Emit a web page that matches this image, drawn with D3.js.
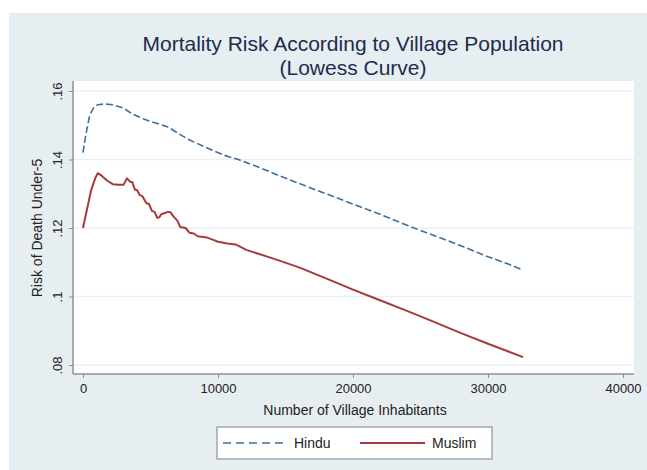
<!DOCTYPE html>
<html>
<head>
<meta charset="utf-8">
<script src="https://cdn.jsdelivr.net/npm/d3@7"></script>
<style>
  html, body { margin: 0; padding: 0; background: #ffffff; }
  svg { display: block; font-family: "Liberation Sans", Arial, Helvetica, sans-serif; }
</style>
</head>
<body>
<svg id="chart" width="647" height="470"></svg>
<script>
// Lowess-smoothed under-5 mortality risk by village population
const hinduPop  = [0, 200, 500, 800, 1100, 1600, 2200, 3000, 3700, 4700, 5500, 6300, 7100, 7900, 9000, 10400, 11500, 12600, 14400, 16000, 18000, 20000, 22000, 24000, 26000, 28000, 30000, 31500, 32600];
const hinduRisk = [.1420, .1470, .1530, .1552, .1560, .1562, .1560, .1550, .1532, .1515, .1505, .1495, .1475, .1457, .1437, .1413, .1400, .1384, .1355, .1330, .1300, .1270, .1240, .1208, .1178, .1148, .1116, .1095, .1077];

const muslimPop  = [0, 300, 600, 900, 1100, 1400, 1800, 2200, 2600, 3000, 3250, 3500, 3650, 3850, 4000, 4200, 4400, 4700, 4900, 5100, 5300, 5500, 5650, 5800, 6300, 6500, 6700, 7000, 7200, 7600, 7900, 8200, 8500, 9200, 9600, 10000, 10700, 11300, 12100, 14000, 16000, 18000, 20000, 22000, 24000, 26000, 28000, 30000, 32600];
const muslimRisk = [.1200, .1255, .1310, .1345, .1360, .1352, .1338, .1328, .1326, .1326, .1345, .1335, .1334, .1312, .1311, .1296, .1293, .1272, .1270, .1250, .1247, .1230, .1231, .1240, .1247, .1245, .1234, .1221, .1203, .1200, .1186, .1184, .1176, .1172, .1166, .1160, .1155, .1152, .1136, .1112, .1085, .1053, .1020, .0989, .0958, .0926, .0893, .0862, .0823];

const xTicks = [0, 10000, 20000, 30000, 40000];
const yTicks = [.08, .10, .12, .14, .16];
const yTickLabels = [".08", ".1", ".12", ".14", ".16"];

const titleLines = ["Mortality Risk According to Village Population", "(Lowess Curve)"];
const xTitle = "Number of Village Inhabitants";
const yTitle = "Risk of Death Under-5";
const seriesNames = ["Hindu", "Muslim"];

const svg = d3.select("#chart");
const W = 647, H = 470;

// outer panel
svg.append("rect").attr("x", 9).attr("y", 13).attr("width", W - 9).attr("height", H - 13)
  .attr("fill", "#e7eef2");

// plot region
const plot = { left: 73, right: 634, top: 81, bottom: 374 };
svg.append("rect").attr("x", plot.left).attr("y", plot.top)
  .attr("width", plot.right - plot.left).attr("height", plot.bottom - plot.top)
  .attr("fill", "#ffffff");

const x = d3.scaleLinear().domain([0, 40000]).range([83, 623]);
const y = d3.scaleLinear().domain([.08, .16]).range([365, 91]);

// horizontal grid
svg.append("g").selectAll("line").data(yTicks).join("line")
  .attr("x1", plot.left).attr("x2", plot.right)
  .attr("y1", d => y(d)).attr("y2", d => y(d))
  .attr("stroke", "#eaf0f3").attr("stroke-width", 1.5);

const axisColor = "#8a9298";

// x axis
const xAxis = svg.append("g").attr("transform", `translate(0,${plot.bottom})`)
  .call(d3.axisBottom(x).tickValues(xTicks).tickFormat(d3.format("d")).tickSize(4).tickSizeOuter(0).tickPadding(6));
xAxis.select(".domain").remove();
xAxis.append("line").attr("x1", plot.left).attr("x2", plot.right).attr("y1", 0).attr("y2", 0)
  .attr("stroke", axisColor).attr("stroke-width", 1.5);
xAxis.selectAll(".tick line").attr("stroke", axisColor);
xAxis.selectAll(".tick text").attr("fill", "#222").attr("font-size", 13)
  .attr("font-family", "'Liberation Sans', Arial, sans-serif");

// y axis
const yAxis = svg.append("g").attr("transform", `translate(${plot.left},0)`)
  .call(d3.axisLeft(y).tickValues(yTicks).tickFormat((d, i) => yTickLabels[i]).tickSize(4).tickSizeOuter(0).tickPadding(6));
yAxis.select(".domain").remove();
yAxis.append("line").attr("y1", plot.top).attr("y2", plot.bottom).attr("x1", 0).attr("x2", 0)
  .attr("stroke", axisColor).attr("stroke-width", 1.5);
yAxis.selectAll(".tick line").attr("stroke", axisColor);
yAxis.selectAll(".tick text")
  .attr("fill", "#222").attr("font-size", 13)
  .attr("font-family", "'Liberation Sans', Arial, sans-serif")
  .attr("x", null).attr("dy", null)
  .attr("text-anchor", "middle")
  .attr("transform", "translate(-11,0) rotate(-90)");

// series lines
const line = d3.line().x(d => x(d[0])).y(d => y(d[1]));
const hindu = d3.zip(hinduPop, hinduRisk);
const muslim = d3.zip(muslimPop, muslimRisk);

const hinduColor = "#3f6e9c", muslimColor = "#a53a3c";

svg.append("path").datum(muslim).attr("d", line)
  .attr("fill", "none").attr("stroke", muslimColor).attr("stroke-width", 2)
  .attr("stroke-linejoin", "round");
svg.append("path").datum(hindu).attr("d", line)
  .attr("fill", "none").attr("stroke", hinduColor).attr("stroke-width", 1.6)
  .attr("stroke-dasharray", "7,3");

// titles
svg.append("text").attr("x", 353).attr("y", 51).attr("text-anchor", "middle")
  .attr("font-size", 21).attr("fill", "#1d2c4c").text(titleLines[0]);
svg.append("text").attr("x", 353).attr("y", 75).attr("text-anchor", "middle")
  .attr("font-size", 21).attr("fill", "#1d2c4c").text(titleLines[1]);

svg.append("text").attr("x", 355).attr("y", 415).attr("text-anchor", "middle")
  .attr("font-size", 14).attr("fill", "#222").text(xTitle);
svg.append("text").attr("transform", "translate(42,228) rotate(-90)").attr("text-anchor", "middle")
  .attr("font-size", 14).attr("fill", "#222").text(yTitle);

// legend
const lg = svg.append("g");
lg.append("rect").attr("x", 217).attr("y", 427).attr("width", 275).attr("height", 32)
  .attr("fill", "#ffffff").attr("stroke", "#8d9599").attr("stroke-width", 1.2);
lg.append("line").attr("x1", 223).attr("x2", 285).attr("y1", 443).attr("y2", 443)
  .attr("stroke", hinduColor).attr("stroke-width", 1.6).attr("stroke-dasharray", "8,5");
lg.append("text").attr("x", 294).attr("y", 448).attr("font-size", 14).attr("fill", "#222").text(seriesNames[0]);
lg.append("line").attr("x1", 360).attr("x2", 425).attr("y1", 443).attr("y2", 443)
  .attr("stroke", muslimColor).attr("stroke-width", 1.8);
lg.append("text").attr("x", 432).attr("y", 448).attr("font-size", 14).attr("fill", "#222").text(seriesNames[1]);
</script>
</body>
</html>
